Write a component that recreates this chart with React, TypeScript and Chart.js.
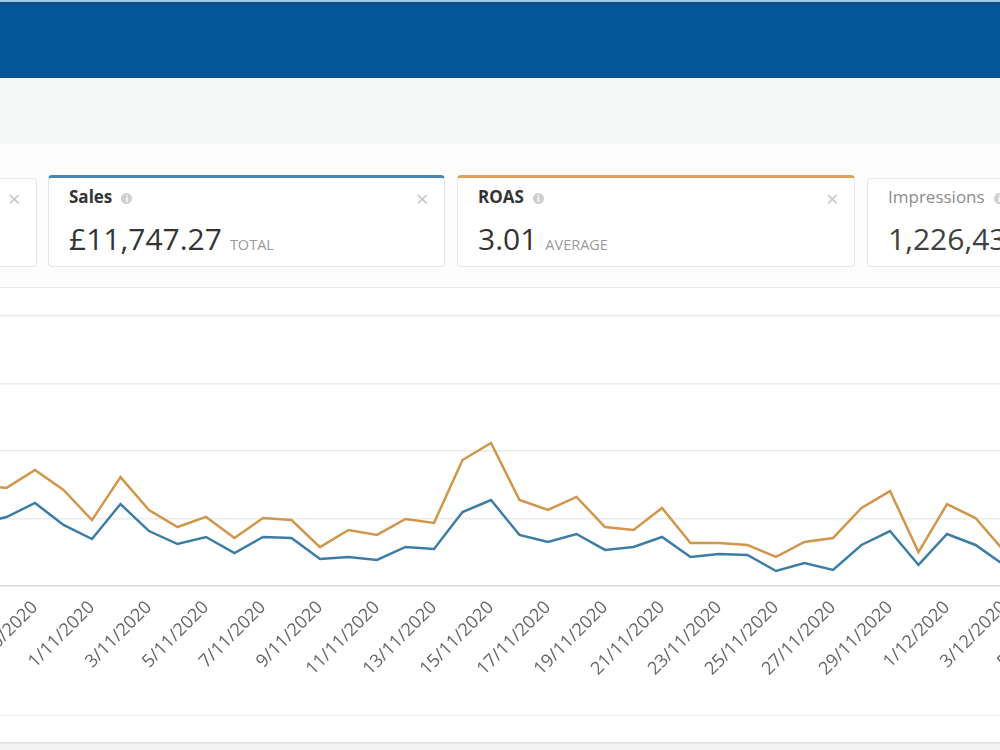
import React, { useEffect, useRef } from "react";
import { Chart, registerables } from "chart.js";

Chart.register(...registerables);

// Daily reporting dates shown on the category axis
const dates = [
  "28/10/2020", "29/10/2020", "30/10/2020", "31/10/2020",
  "1/11/2020", "2/11/2020", "3/11/2020", "4/11/2020", "5/11/2020",
  "6/11/2020", "7/11/2020", "8/11/2020", "9/11/2020", "10/11/2020",
  "11/11/2020", "12/11/2020", "13/11/2020", "14/11/2020", "15/11/2020",
  "16/11/2020", "17/11/2020", "18/11/2020", "19/11/2020", "20/11/2020",
  "21/11/2020", "22/11/2020", "23/11/2020", "24/11/2020", "25/11/2020",
  "26/11/2020", "27/11/2020", "28/11/2020", "29/11/2020", "30/11/2020",
  "1/12/2020", "2/12/2020", "3/12/2020", "4/12/2020", "5/12/2020",
];

// Daily sales in £ (28/10 to 3/12)
const sales = [
  459, 511, 615, 452, 348, 607, 407, 311, 363, 244, 363, 356, 200, 215,
  193, 289, 274, 548, 637, 378, 326, 385, 267, 289, 363, 215, 237, 230,
  111, 170, 119, 304, 407, 156, 385, 304, 156,
];

// Daily return on ad spend (28/10 to 3/12)
const roas = [
  4.49, 4.36, 5.16, 4.27, 2.93, 4.84, 3.38, 2.62, 3.07, 2.13, 3.02, 2.93,
  1.73, 2.49, 2.27, 2.98, 2.8, 5.6, 6.36, 3.82, 3.38, 3.96, 2.62, 2.49,
  3.47, 1.91, 1.91, 1.82, 1.29, 1.96, 2.13, 3.47, 4.22, 1.51, 3.64, 3.02,
  1.56,
];

const salesTicks = [0, 500, 1000, 1500, 2000];
const roasTicks = [0, 3, 6, 9, 12];

const BLUE = "#3c7da6";
const ORANGE = "#d1964a";
const FONT = "'Open Sans', 'Noto Sans', sans-serif";

function SalesChart() {
  const ref = useRef<HTMLCanvasElement | null>(null);

  useEffect(() => {
    if (!ref.current) return;
    const chart = new Chart(ref.current, {
      type: "line",
      data: {
        labels: dates,
        datasets: [
          {
            label: "Sales",
            data: sales,
            yAxisID: "ySales",
            borderColor: BLUE,
            backgroundColor: BLUE,
            borderWidth: 2.5,
            pointRadius: 0,
            tension: 0,
            fill: false,
          },
          {
            label: "ROAS",
            data: roas,
            yAxisID: "yRoas",
            borderColor: ORANGE,
            backgroundColor: ORANGE,
            borderWidth: 2.5,
            pointRadius: 0,
            tension: 0,
            fill: false,
          },
        ],
      },
      options: {
        responsive: false,
        animation: false,
        devicePixelRatio: 1,
        layout: { padding: { top: 20, left: 0, right: 0, bottom: 0 } },
        plugins: {
          legend: { display: false },
          tooltip: { enabled: false },
        },
        scales: {
          x: {
            type: "category",
            offset: false,
            grid: { display: false, drawTicks: false },
            border: { display: false },
            ticks: {
              autoSkip: false,
              minRotation: 45,
              maxRotation: 45,
              padding: 11,
              color: "#666666",
              font: { family: FONT, size: 18 },
              callback: (_v: any, i: number) => (i % 2 === 0 ? dates[i] : ""),
            },
            afterFit: (s: any) => {
              s.paddingLeft = 0;
              s.paddingRight = 0;
              s.height = 120;
            },
          },
          ySales: {
            position: "left",
            min: salesTicks[0],
            max: salesTicks[salesTicks.length - 1],
            ticks: { display: false, stepSize: salesTicks[1] - salesTicks[0] },
            grid: {
              drawTicks: false,
              lineWidth: 1.5,
              color: (ctx: any) => (ctx.index === 0 ? "#d8d8d8" : "#ebebeb"),
            },
            border: { display: false },
            afterFit: (s: any) => {
              s.width = 0;
              s.paddingTop = 0;
              s.paddingBottom = 0;
            },
          },
          yRoas: {
            position: "right",
            display: false,
            min: roasTicks[0],
            max: roasTicks[roasTicks.length - 1],
          },
        },
      },
    } as any);
    return () => chart.destroy();
  }, []);

  return (
    <canvas
      ref={ref}
      width={1083}
      height={410}
      style={{ position: "absolute", left: -22, top: 296, width: 1083, height: 410 }}
    />
  );
}

function InfoIcon() {
  return (
    <span
      style={{
        display: "inline-block",
        marginLeft: 9,
        width: 11,
        height: 11,
        borderRadius: "50%",
        background: "#cfcfcf",
        color: "#fff",
        fontSize: 9,
        fontWeight: 700,
        lineHeight: "11px",
        textAlign: "center",
        verticalAlign: "1px",
      }}
    >
      i
    </span>
  );
}

type CardProps = {
  left: number;
  top: number;
  width: number;
  height: number;
  accent?: string;
  title: string;
  titleBold: boolean;
  titleColor: string;
  value: string;
  valueColor: string;
  unit?: string;
  closeable: boolean;
};

function MetricCard(p: CardProps) {
  const bt = p.accent ? 3 : 1;
  const off = p.top + bt; // page y of the card's padding box
  return (
    <div
      style={{
        position: "absolute",
        left: p.left,
        top: p.top,
        width: p.width,
        height: p.height,
        boxSizing: "border-box",
        border: "1px solid #e6e6e6",
        borderTop: p.accent ? `3px solid ${p.accent}` : "1px solid #e6e6e6",
        borderRadius: 4,
        background: "#fff",
      }}
    >
      {p.title ? (
        <div
          style={{
            position: "absolute",
            left: 20,
            top: 188 - off,
            fontSize: 17,
            lineHeight: "17px",
            fontWeight: p.titleBold ? 700 : 400,
            color: p.titleColor,
            whiteSpace: "nowrap",
          }}
        >
          {p.title}
          <InfoIcon />
        </div>
      ) : null}
      <div
        style={{
          position: "absolute",
          left: 20,
          top: 224 - off,
          fontSize: 30,
          lineHeight: "30px",
          color: p.valueColor,
          whiteSpace: "nowrap",
        }}
      >
        {p.value}
        {p.unit ? (
          <span style={{ fontSize: 14.5, color: "#9b9b9b", marginLeft: 8 }}>{p.unit}</span>
        ) : null}
      </div>
      {p.closeable ? (
        <span
          style={{
            position: "absolute",
            left: p.width - 30,
            top: 187 - off,
            fontSize: 22,
            lineHeight: "22px",
            color: "#c6c6c6",
          }}
        >
          ×
        </span>
      ) : null}
    </div>
  );
}

export default function App() {
  return (
    <div
      style={{
        position: "fixed",
        left: 0,
        top: 0,
        width: 1000,
        height: 750,
        overflow: "hidden",
        background: "#fdfdfd",
        fontFamily: FONT,
      }}
    >
      {/* top navigation bar */}
      <div style={{ position: "absolute", left: 0, top: 0, width: 1000, height: 2, background: "#9fcbea" }} />
      <div style={{ position: "absolute", left: 0, top: 2, width: 1000, height: 3, background: "#0f4f86" }} />
      <div style={{ position: "absolute", left: 0, top: 5, width: 1000, height: 72, background: "#04589a" }} />
      <div style={{ position: "absolute", left: 0, top: 77, width: 1000, height: 1, background: "#1a4a72" }} />
      {/* sub header band */}
      <div style={{ position: "absolute", left: 0, top: 78, width: 1000, height: 66, background: "#f6f7f7" }} />

      {/* metric cards */}
      <MetricCard
        left={-360}
        top={178}
        width={397}
        height={89}
        title=""
        titleBold={false}
        titleColor="#888"
        value=""
        valueColor="#444"
        closeable={true}
      />
      <MetricCard
        left={48}
        top={175}
        width={397}
        height={92}
        accent="#4a86b0"
        title="Sales"
        titleBold={true}
        titleColor="#333"
        value="£11,747.27"
        valueColor="#333"
        unit="TOTAL"
        closeable={true}
      />
      <MetricCard
        left={457}
        top={175}
        width={398}
        height={92}
        accent="#dba25c"
        title="ROAS"
        titleBold={true}
        titleColor="#333"
        value="3.01"
        valueColor="#333"
        unit="AVERAGE"
        closeable={true}
      />
      <MetricCard
        left={867}
        top={178}
        width={397}
        height={89}
        title="Impressions"
        titleBold={false}
        titleColor="#8c8c8c"
        value="1,226,437"
        valueColor="#3f3f3f"
        closeable={false}
      />

      {/* chart panel */}
      <div
        style={{
          position: "absolute",
          left: -10,
          top: 287,
          width: 1020,
          height: 457,
          boxSizing: "border-box",
          border: "1px solid #e9e9e9",
          borderBottom: "2px solid #e2e2e2",
          background: "#fff",
        }}
      />
      <div style={{ position: "absolute", left: 0, top: 715, width: 1000, height: 1, background: "#f1f1f1" }} />
      <div style={{ position: "absolute", left: 0, top: 744, width: 1000, height: 6, background: "#f3f3f3" }} />

      <SalesChart />
    </div>
  );
}
